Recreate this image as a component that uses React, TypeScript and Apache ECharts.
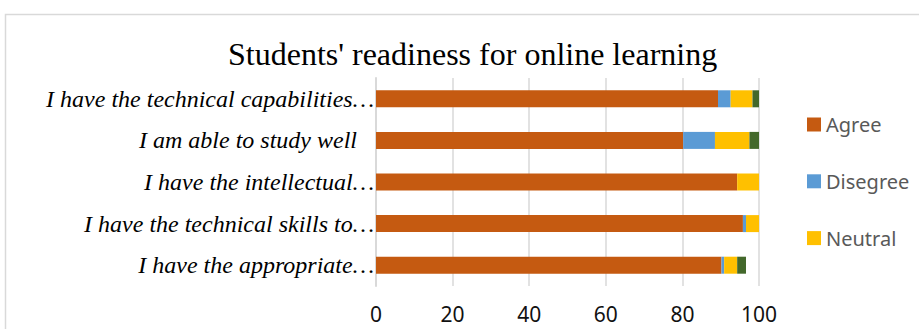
import React, { useEffect, useRef } from "react";
import * as echarts from "echarts";

const categories = [
  "I have the technical capabilities…",
  "I am able to study well",
  "I have the intellectual…",
  "I have the technical skills to…",
  "I have the appropriate…",
];
const agree = [89.3, 80.2, 94.3, 95.8, 90.2];
const disagree = [3.3, 8.3, 0, 0.8, 0.7];
const neutral = [5.7, 9.0, 5.7, 3.4, 3.4];
const other = [1.7, 2.5, 0, 0, 2.3];
const xTicks = [0, 20, 40, 60, 80, 100];
const title = "Students' readiness for online learning";

export default function App() {
  const ref = useRef<HTMLDivElement>(null);
  useEffect(() => {
    document.body.style.margin = "0";
    const chart = echarts.init(ref.current!, null, { renderer: "svg" });
    const barStyle = (name: string, data: number[], color: string) => ({
      name,
      type: "bar",
      stack: "total",
      barWidth: 17,
      data,
      itemStyle: { color },
    });
    chart.setOption({
      animation: false,
      backgroundColor: "#fff",
      title: {
        text: title,
        left: 228,
        top: 38,
        padding: 0,
        textStyle: {
          fontFamily: "Liberation Serif",
          fontSize: 32,
          lineHeight: 32,
          fontWeight: "normal",
          color: "#000",
        },
      },
      legend: {
        orient: "vertical",
        left: 807,
        top: 114.5,
        padding: 0,
        itemWidth: 14,
        itemHeight: 14,
        itemGap: 36.8,
        icon: "rect",
        data: ["Agree", "Disegree", "Neutral"],
        textStyle: {
          fontFamily: "Noto Sans",
          fontSize: 20,
          lineHeight: 20,
          color: "#595959",
        },
      },
      grid: { left: 376, right: 160, top: 78, bottom: 43, containLabel: false },
      xAxis: {
        type: "value",
        min: xTicks[0],
        max: xTicks[xTicks.length - 1],
        interval: 20,
        axisLine: { show: false },
        axisTick: { show: false },
        splitLine: { show: true, lineStyle: { color: "#d9d9d9", width: 1.5 } },
        axisLabel: {
          margin: 17,
          fontFamily: "Noto Sans",
          fontSize: 21,
          lineHeight: 21,
          color: "#111",
        },
      },
      yAxis: {
        type: "category",
        inverse: true,
        data: categories,
        axisLine: { show: true, lineStyle: { color: "#d9d9d9", width: 2 } },
        axisTick: { show: false },
        axisLabel: {
          margin: 2,
          fontFamily: "Liberation Serif",
          fontStyle: "italic",
          fontSize: 24,
          color: "#000",
          formatter: (v: string) => (v.endsWith("…") ? v : "{p|" + v + "}"),
          rich: {
            p: {
              padding: [0, 17, 0, 0],
              fontFamily: "Liberation Serif",
              fontStyle: "italic",
              fontSize: 24,
              color: "#000",
            },
          },
        },
      },
      graphic: [
        {
          type: "rect",
          shape: { x: 5.5, y: 14.5, width: 940, height: 340 },
          style: { fill: "none", stroke: "#d9d9d9", lineWidth: 1.5 },
          silent: true,
          z: -1,
        },
      ],
      series: [
        barStyle("Agree", agree, "#C55A11"),
        barStyle("Disegree", disagree, "#5B9BD5"),
        barStyle("Neutral", neutral, "#FFC000"),
        barStyle("Series4", other, "#43682B"),
      ],
    });
    return () => chart.dispose();
  }, []);
  return <div ref={ref} style={{ width: 919, height: 329 }} />;
}
